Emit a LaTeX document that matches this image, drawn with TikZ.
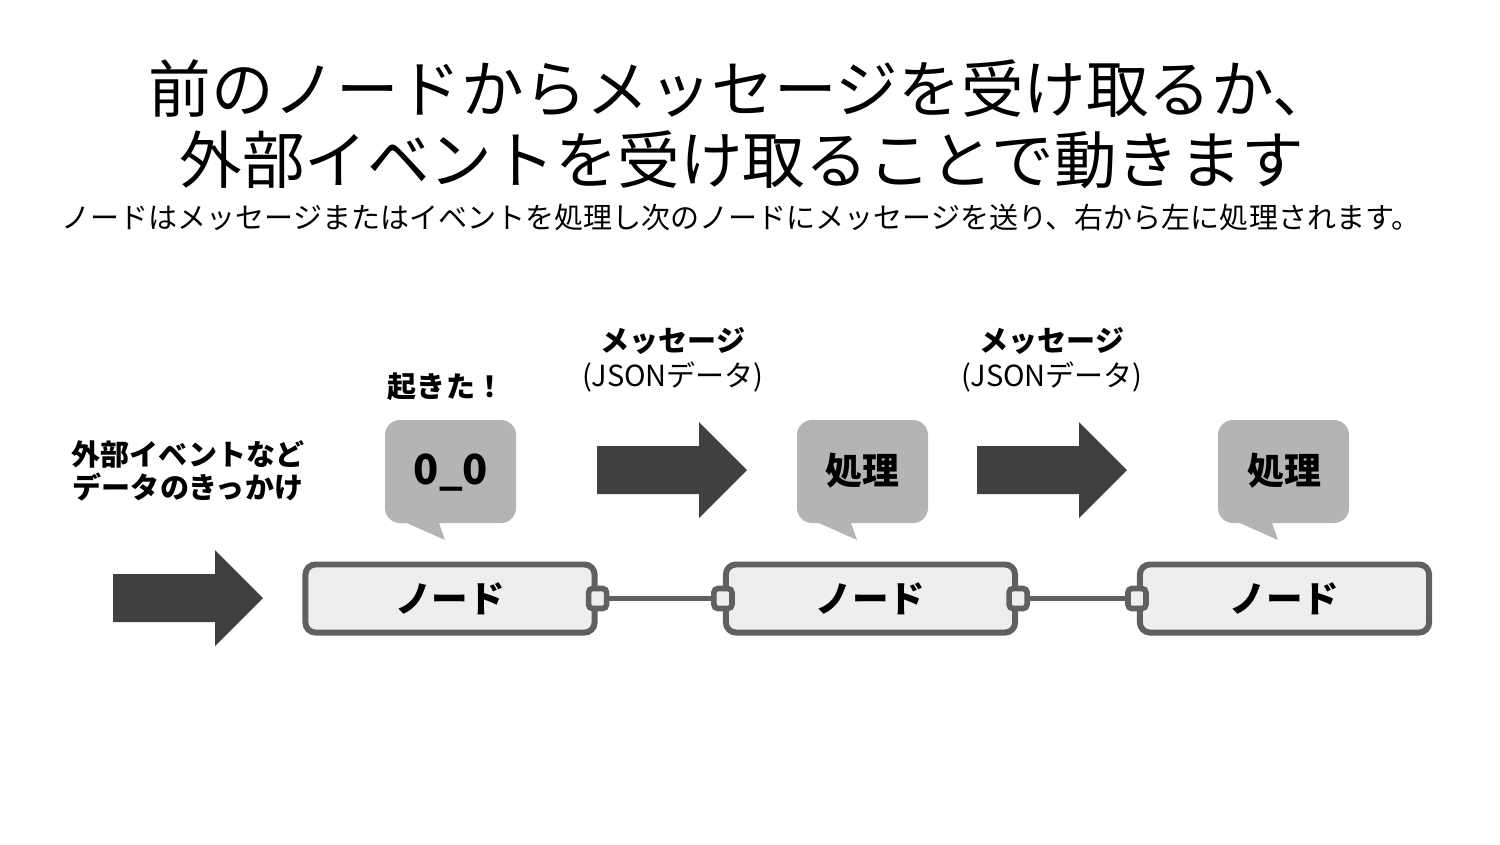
\documentclass[tikz,border=0pt]{standalone}
\usepackage{fontspec}
\usepackage{tikz}
\setmainfont{Noto Sans CJK JP}
\definecolor{arrowgray}{HTML}{404040}
\definecolor{bubblegray}{HTML}{B4B4B4}
\definecolor{edgegray}{HTML}{606060}
\definecolor{nodefill}{HTML}{EEEEEE}

\tikzset{
  flownode/.style={draw=edgegray, line width=1.7pt, fill=nodefill, rounded corners=0.1cm,
    minimum width=2.89cm, minimum height=0.68cm, inner sep=0pt, font=\fontsize{10.4}{12}\selectfont\bfseries},
  port/.style={draw=edgegray, line width=1.6pt, fill=nodefill, rounded corners=0.04cm,
    minimum width=0.18cm, minimum height=0.2cm, inner sep=0pt},
  wire/.style={edgegray, line width=1.3pt},
  bubble/.style={fill=bubblegray, rounded corners=0.15cm},
  saytext/.style={font=\fontsize{10.5}{12}\selectfont\bfseries},
  label/.style={font=\fontsize{8.25}{9.6}\selectfont\bfseries, align=center, inner sep=0pt},
}

\begin{document}
\begin{tikzpicture}[x=0.01cm, y=-0.01cm]
	\useasboundingbox[fill=white] (0,0) rectangle (1500,844);

	% heading
	\node[font=\fontsize{17.8}{20}\selectfont] (title1) at (742,88) {前のノードからメッセージを受け取るか、};
	\node[font=\fontsize{17.8}{20}\selectfont] (title2) at (742,160) {外部イベントを受け取ることで動きます};
	\node[font=\fontsize{8.25}{10}\selectfont] (sub) at (741,217) {ノードはメッセージまたはイベントを処理し次のノードにメッセージを送り、右から左に処理されます。};

	% block arrows
	\foreach \ax/\ay in {113/598, 597/470, 977/470}
		\fill[arrowgray] (\ax,\ay-24) -- (\ax+102,\ay-24) -- (\ax+102,\ay-48) -- (\ax+150,\ay)
			-- (\ax+102,\ay+48) -- (\ax+102,\ay+24) -- (\ax,\ay+24) -- cycle;

	% speech bubbles
	\foreach \bx in {0, 412, 833} {
		\fill[bubblegray] (400+\bx,520) -- (438+\bx,520) -- (445+\bx,540) -- cycle;
		\fill[bubble] (385+\bx,420) rectangle (516+\bx,523);
	}
	\node[saytext, font=\fontsize{11.8}{14}\selectfont\bfseries] (say1) at (451,473) {0\_0};
	\node[saytext] (say2) at (862,471) {処理};
	\node[saytext] (say3) at (1284,471) {処理};

	% labels
	\node[label, font=\fontsize{8.25}{9.4}\selectfont\bfseries] (trigger) at (188,471) {外部イベントなど\\データのきっかけ};
	\node[label] (wake) at (446,387) {起きた！};
	\node[label, font=\fontsize{8.25}{10}\selectfont] (msg1) at (673,360) {\textbf{メッセージ}\\(JSONデータ)};
	\node[label, font=\fontsize{8.25}{10}\selectfont] (msg2) at (1052,360) {\textbf{メッセージ}\\(JSONデータ)};

	% flow
	\node[flownode] (n1) at (450,598.5) {ノード};
	\node[flownode] (n2) at (870.5,598.5) {ノード};
	\node[flownode] (n3) at (1284.5,598.5) {ノード};

	\node[port] (n1out) at (n1.east) {};
	\node[port] (n2in) at (n2.west) {};
	\node[port] (n2out) at (n2.east) {};
	\node[port] (n3in) at (n3.west) {};

	\draw[wire] (n1out) -- (n2in);
	\draw[wire] (n2out) -- (n3in);
\end{tikzpicture}
\end{document}
